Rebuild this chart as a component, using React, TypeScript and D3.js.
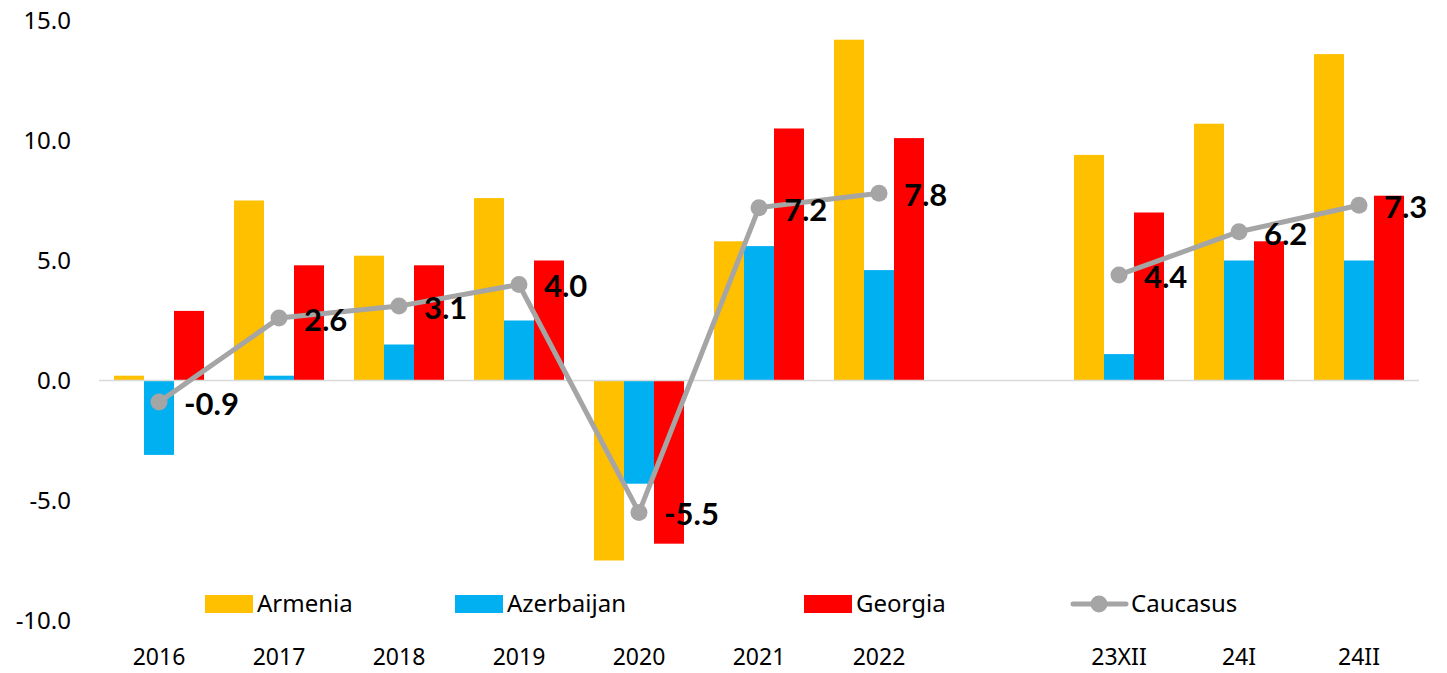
import React, { useEffect, useRef } from 'react';
import * as d3 from 'd3';

// categories (empty string = gap slot between years and months)
const categories = ['2016', '2017', '2018', '2019', '2020', '2021', '2022', '', '23XII', '24I', '24II'];

const armenia = [0.2, 7.5, 5.2, 7.6, -7.5, 5.8, 14.2, null, 9.4, 10.7, 13.6];
const azerbaijan = [-3.1, 0.2, 1.5, 2.5, -4.3, 5.6, 4.6, null, 1.1, 5.0, 5.0];
const georgia = [2.9, 4.8, 4.8, 5.0, -6.8, 10.5, 10.1, null, 7.0, 5.8, 7.7];
const caucasus = [-0.9, 2.6, 3.1, 4.0, -5.5, 7.2, 7.8, null, 4.4, 6.2, 7.3];

const yTicks = [-10, -5, 0, 5, 10, 15];

const barSeries = [
  { name: 'Armenia', values: armenia, color: '#FFC000' },
  { name: 'Azerbaijan', values: azerbaijan, color: '#00B0F0' },
  { name: 'Georgia', values: georgia, color: '#FF0000' },
];
const lineColor = '#A5A5A5';

function Chart() {
  const svgRef = useRef<SVGSVGElement>(null);

  useEffect(() => {
    const svg = d3.select(svgRef.current);
    svg.selectAll('*').remove();

    const axisFont = '"Noto Sans", sans-serif';
    const labelFont = 'Lato, sans-serif';

    const fmt = d3.formatLocale({
      decimal: '.',
      thousands: ',',
      grouping: [3],
      currency: ['', ''],
      minus: '-',
    }).format('.1f');

    var x = d3
      .scaleBand<number>()
      .domain(categories.map((_, i) => i))
      .range([99, 1419]);

    var y = d3.scaleLinear().domain([-10, 15]).range([620.5, 20.5]);

    // y tick labels (no gridlines in the original)
    svg
      .append('g')
      .selectAll('text')
      .data(yTicks)
      .enter()
      .append('text')
      .attr('x', 71)
      .attr('y', (d) => y(d))
      .attr('dy', '0.35em')
      .attr('text-anchor', 'end')
      .style('font-family', axisFont)
      .style('font-size', '24px')
      .style('fill', '#000')
      .text((d) => fmt(d));

    // category labels
    svg
      .append('g')
      .selectAll('text')
      .data(categories)
      .enter()
      .append('text')
      .attr('x', (_, i) => x(i)! + x.bandwidth() / 2)
      .attr('y', 665)
      .attr('text-anchor', 'middle')
      .style('font-family', axisFont)
      .style('font-size', '23px')
      .style('fill', '#000')
      .text((d) => d);

    // bars
    const inner = d3
      .scaleBand<string>()
      .domain(barSeries.map((s) => s.name))
      .range([0, x.bandwidth()])
      .paddingOuter(0.5)
      .paddingInner(0);

    barSeries.forEach((s) => {
      svg
        .append('g')
        .selectAll('rect')
        .data(s.values.map((v, i) => ({ v, i })).filter((d) => d.v !== null))
        .enter()
        .append('rect')
        .attr('x', (d) => x(d.i)! + inner(s.name)!)
        .attr('width', inner.bandwidth())
        .attr('y', (d) => Math.min(y(d.v as number), y(0)))
        .attr('height', (d) => Math.abs(y(d.v as number) - y(0)))
        .style('fill', s.color);
    });

    // zero axis line
    svg
      .append('line')
      .attr('x1', 99)
      .attr('x2', 1419)
      .attr('y1', y(0))
      .attr('y2', y(0))
      .style('stroke', '#D9D9D9')
      .style('stroke-width', 1.5);

    // Caucasus line
    const pts = caucasus.map((v, i) => ({ v, i }));
    const line = d3
      .line<{ v: number | null; i: number }>()
      .defined((d) => d.v !== null)
      .x((d) => x(d.i)! + x.bandwidth() / 2)
      .y((d) => y(d.v as number));

    svg
      .append('path')
      .datum(pts)
      .attr('d', line)
      .style('fill', 'none')
      .style('stroke', lineColor)
      .style('stroke-width', 5)
      .style('stroke-linejoin', 'round');

    const valid = pts.filter((d) => d.v !== null);
    svg
      .append('g')
      .selectAll('circle')
      .data(valid)
      .enter()
      .append('circle')
      .attr('cx', (d) => x(d.i)! + x.bandwidth() / 2)
      .attr('cy', (d) => y(d.v as number))
      .attr('r', 8.5)
      .style('fill', lineColor);

    svg
      .append('g')
      .selectAll('text')
      .data(valid)
      .enter()
      .append('text')
      .attr('x', (d) => x(d.i)! + x.bandwidth() / 2 + 25)
      .attr('y', (d) => y(d.v as number) + 2)
      .attr('dy', '0.35em')
      .style('font-family', labelFont)
      .style('font-weight', 'bold')
      .style('font-size', '31px')
      .style('fill', '#000')
      .text((d) => fmt(d.v as number));

    // legend
    const legendY = 604;
    const legendItems = [
      { name: 'Armenia', color: '#FFC000', x: 205 },
      { name: 'Azerbaijan', color: '#00B0F0', x: 455 },
      { name: 'Georgia', color: '#FF0000', x: 804 },
    ];
    const lg = svg.append('g');
    legendItems.forEach((it) => {
      lg.append('rect')
        .attr('x', it.x)
        .attr('y', legendY - 9)
        .attr('width', 48)
        .attr('height', 18)
        .style('fill', it.color);
      lg.append('text')
        .attr('x', it.x + 52)
        .attr('y', legendY)
        .attr('dy', '0.35em')
        .style('font-family', axisFont)
        .style('font-size', '24px')
        .style('fill', '#000')
        .text(it.name);
    });
    lg.append('line')
      .attr('x1', 1073)
      .attr('x2', 1126)
      .attr('y1', legendY)
      .attr('y2', legendY)
      .style('stroke', lineColor)
      .style('stroke-width', 5)
      .style('stroke-linecap', 'round');
    lg.append('circle')
      .attr('cx', 1099)
      .attr('cy', legendY)
      .attr('r', 8.5)
      .style('fill', lineColor);
    lg.append('text')
      .attr('x', 1131)
      .attr('y', legendY)
      .attr('dy', '0.35em')
      .style('font-family', axisFont)
      .style('font-size', '24px')
      .style('fill', '#000')
      .text('Caucasus');
  }, []);

  return (
    <svg
      ref={svgRef}
      width={1447}
      height={673}
      style={{ position: 'absolute', left: 0, top: 0, background: '#fff' }}
    ></svg>
  );
}

export default function App() {
  return <Chart />;
}
